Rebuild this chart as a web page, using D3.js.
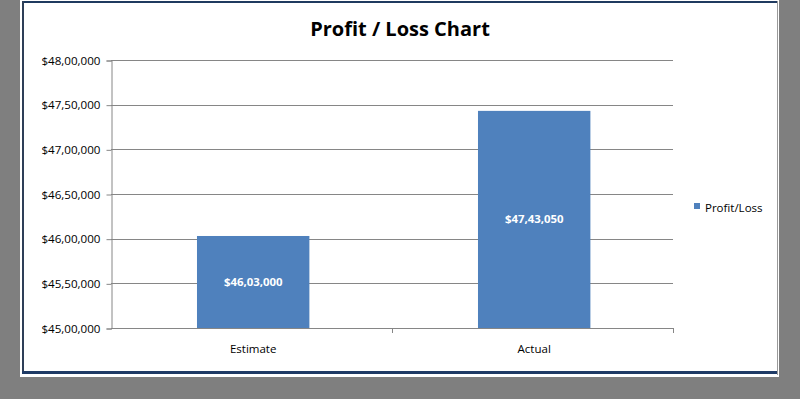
<!DOCTYPE html>
<html>
<head>
<meta charset="utf-8">
<script src="https://cdn.jsdelivr.net/npm/d3@7"></script>
<style>
  body { margin: 0; background: #7f7f7f; }
  svg { display: block; }
</style>
</head>
<body>
<div id="chart"></div>
<script>
// chart data
var categories = ["Estimate", "Actual"];
var values = [4603000, 4743050];
var yTicks = [4500000, 4550000, 4600000, 4650000, 4700000, 4750000, 4800000];
var seriesName = "Profit/Loss";
var title = "Profit / Loss Chart";

var W = 800, H = 399;
var font = "'Open Sans', 'Noto Sans', sans-serif";

// Indian style grouping: $48,00,000
function inr(v) {
    var s = String(Math.round(v));
    var last3 = s.slice(-3), rest = s.slice(0, -3);
    rest = rest.replace(/\B(?=(\d{2})+(?!\d))/g, ",");
    return "$" + (rest ? rest + "," : "") + last3;
}

var svg = d3.select("#chart").append("svg")
    .attr("width", W)
    .attr("height", H);

// background + white panel with dark frame
svg.append("rect").attr("width", W).attr("height", H).attr("fill", "#7f7f7f");
svg.append("rect").attr("x", 20).attr("y", 0).attr("width", 759).attr("height", 377).attr("fill", "#fff");
var frame = svg.append("g");
frame.append("line").attr("x1", 23).attr("x2", 777).attr("y1", 2).attr("y2", 2)
    .attr("stroke", "#1f3a5f").attr("stroke-width", 2);
frame.append("line").attr("x1", 23).attr("x2", 23).attr("y1", 1).attr("y2", 374)
    .attr("stroke", "#2e3f58").attr("stroke-width", 2);
frame.append("line").attr("x1", 22).attr("x2", 777).attr("y1", 372.5).attr("y2", 372.5)
    .attr("stroke", "#1f3b66").attr("stroke-width", 3);
frame.append("line").attr("x1", 777.5).attr("x2", 777.5).attr("y1", 1).attr("y2", 375)
    .attr("stroke", "#9a9a9a").attr("stroke-width", 1);

var plot = { left: 111, right: 673, top: 60, bottom: 328 };

var x = d3.scaleBand()
    .domain(categories)
    .range([plot.left, plot.right])
    .paddingInner(0.6)
    .paddingOuter(0.3)
    .align(0.51);

var y = d3.scaleLinear()
    .domain([d3.min(yTicks), d3.max(yTicks)])
    .range([plot.bottom, plot.top]);

var g = svg.append("g");

// gridlines
g.append("g")
    .selectAll("line")
    .data(yTicks)
    .enter()
    .append("line")
    .attr("x1", plot.left)
    .attr("x2", plot.right)
    .attr("y1", function(d) { return Math.round(y(d)) + 0.5; })
    .attr("y2", function(d) { return Math.round(y(d)) + 0.5; })
    .attr("stroke", "#868686")
    .attr("stroke-width", 1);

// y axis
var yAxis = g.append("g")
    .attr("transform", "translate(" + (plot.left + 0.5) + ",0.5)")
    .call(d3.axisLeft(y).tickValues(yTicks).tickFormat(inr).tickSize(5).tickPadding(6));
yAxis.select(".domain").attr("stroke", "#868686");
yAxis.selectAll(".tick line").attr("stroke", "#868686");
yAxis.selectAll("text")
    .attr("font-family", font)
    .attr("font-size", "11.6px")
    .attr("fill", "#000");

// bars
g.append("g")
    .selectAll("rect")
    .data(values)
    .enter()
    .append("rect")
    .attr("x", function(d, i) { return x(categories[i]); })
    .attr("y", function(d) { return y(d); })
    .attr("width", x.bandwidth())
    .attr("height", function(d) { return y(yTicks[0]) - y(d); })
    .attr("fill", "#4f81bd");

// x axis: line plus ticks at category boundaries
g.append("line")
    .attr("x1", plot.left).attr("x2", plot.right)
    .attr("y1", plot.bottom + 0.5).attr("y2", plot.bottom + 0.5)
    .attr("stroke", "#868686");
var step = (plot.right - plot.left) / categories.length;
g.append("g")
    .selectAll("line")
    .data(categories)
    .enter()
    .append("line")
    .attr("x1", function(d, i) { return Math.round(plot.left + step * (i + 1)) + 0.5; })
    .attr("x2", function(d, i) { return Math.round(plot.left + step * (i + 1)) + 0.5; })
    .attr("y1", plot.bottom)
    .attr("y2", plot.bottom + 5)
    .attr("stroke", "#868686");

g.append("g")
    .selectAll("text")
    .data(categories)
    .enter()
    .append("text")
    .attr("x", function(d) { return x(d) + x.bandwidth() / 2; })
    .attr("y", 353)
    .attr("text-anchor", "middle")
    .attr("font-family", font)
    .attr("font-size", "11.5px")
    .attr("fill", "#000")
    .text(function(d) { return d; });

// value labels inside bars
g.append("g")
    .selectAll("text")
    .data(values)
    .enter()
    .append("text")
    .attr("x", function(d, i) { return x(categories[i]) + x.bandwidth() / 2; })
    .attr("y", function(d) { return (y(d) + y(yTicks[0])) / 2 + 4; })
    .attr("text-anchor", "middle")
    .attr("font-family", font)
    .attr("font-size", "11.4px")
    .attr("font-weight", "bold")
    .attr("fill", "#fff")
    .text(inr);

// title
svg.append("text")
    .attr("x", 400)
    .attr("y", 36)
    .attr("text-anchor", "middle")
    .attr("font-family", font)
    .attr("font-size", "20px")
    .attr("font-weight", "bold")
    .attr("fill", "#000")
    .text(title);

// legend
var legend = svg.append("g").attr("transform", "translate(694,203)");
legend.append("rect").attr("width", 6).attr("height", 6).attr("fill", "#4f81bd");
legend.append("text")
    .attr("x", 11)
    .attr("y", 9)
    .attr("font-family", font)
    .attr("font-size", "11.5px")
    .attr("fill", "#000")
    .text(seriesName);
</script>
</body>
</html>
